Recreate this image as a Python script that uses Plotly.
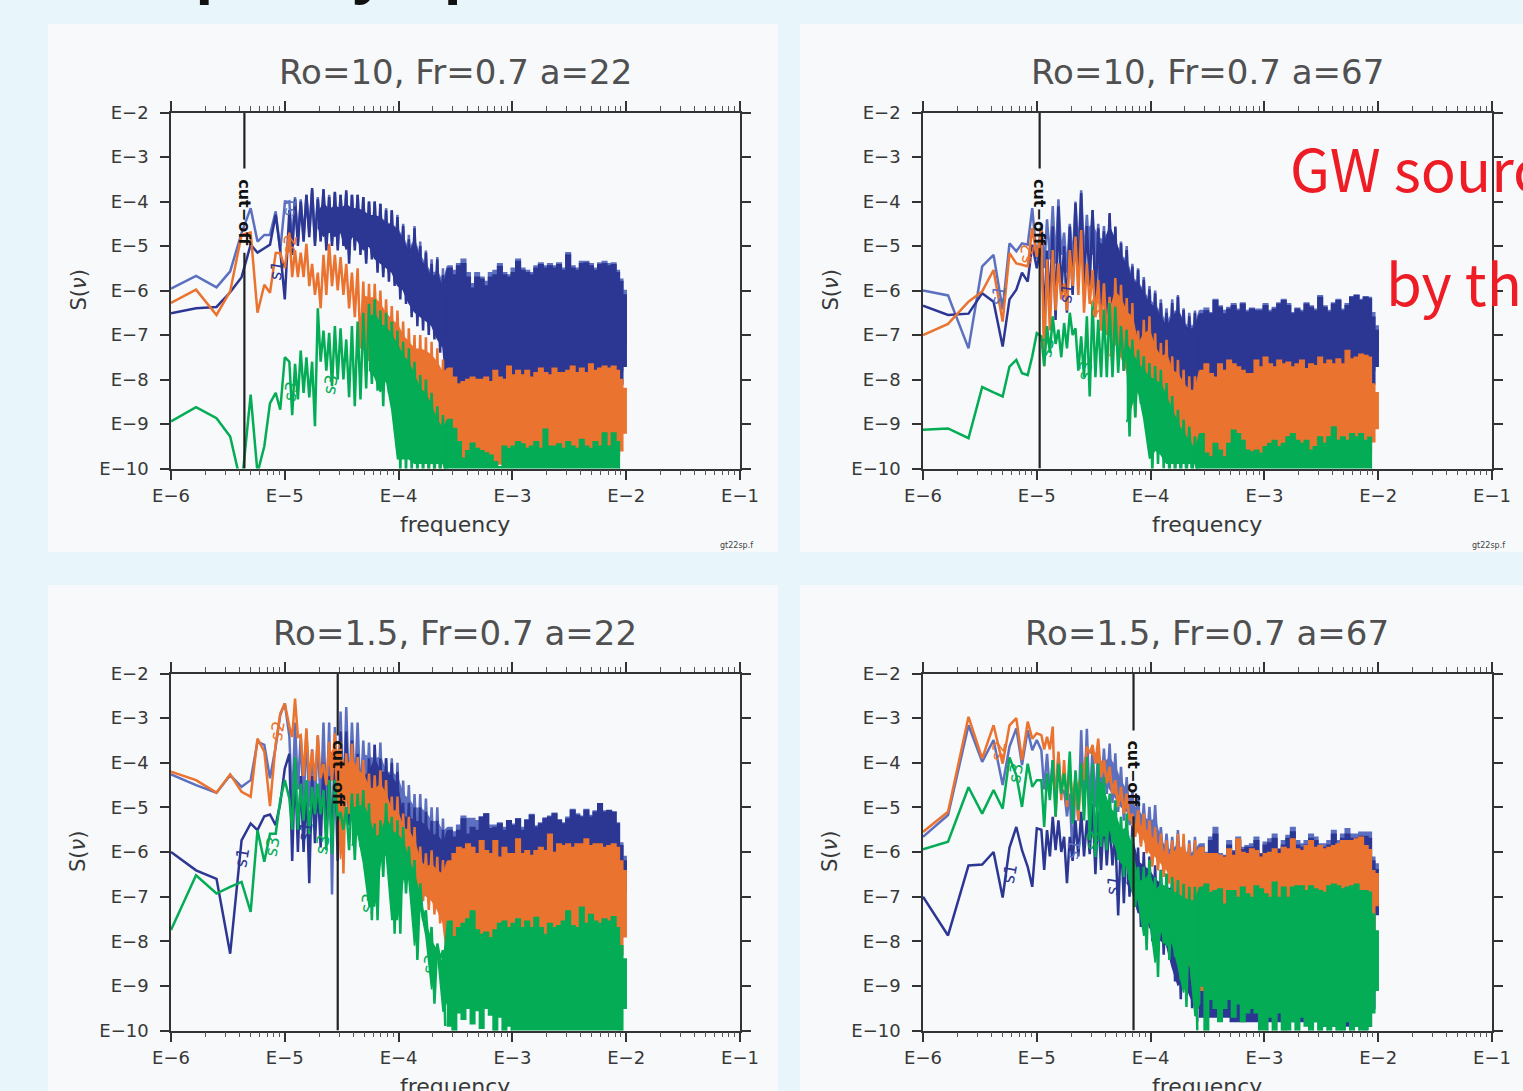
import plotly.graph_objects as go

W, H = 1523, 1091

LOW_F = [-6,-5.78,-5.6,-5.48,-5.38,-5.3,-5.24,-5.18,-5.13,-5.08,-5.04,-5.0]
MID_F = [-4.96,-4.91,-4.86,-4.81,-4.76,-4.71,-4.66,-4.61,-4.56,-4.51,-4.46,-4.41,-4.36,-4.31,-4.26,-4.21,-4.16,-4.11,-4.06,-4.01,-3.96,-3.91,-3.86,-3.81,-3.76,-3.71,-3.66,-3.61]
HIGH_F = [-3.57,-3.53,-3.49,-3.45,-3.41,-3.37,-3.33,-3.29,-3.25,-3.21,-3.17,-3.13,-3.09,-3.05,-3.01,-2.97,-2.93,-2.89,-2.85,-2.81,-2.77,-2.73,-2.69,-2.65,-2.61,-2.57,-2.53,-2.49,-2.45,-2.41,-2.37,-2.33,-2.29,-2.25,-2.21,-2.17,-2.13,-2.09,-2.06,-2.03,-2.0]
EDGE_F = [-3.57,-3.3,-3.0,-2.5,-2.06,-2.03,-2.0]
TICK_EXP_X = [-6,-5,-4,-3,-2,-1]
TICK_EXP_Y = [-2,-3,-4,-5,-6,-7,-8,-9,-10]
MINOR_MULT = [2,3,4,5,6,7,8,9]
CUT_F = [-5.355,-4.975,-4.535,-4.15]
CUT_GAP = [(-3.26,-5.15),(-3.26,-5.05),(-3.39,-5.2),(-3.28,-5.2)]
TITLES = ["Ro=10, Fr=0.7 a=22","Ro=10, Fr=0.7 a=67","Ro=1.5, Fr=0.7 a=22","Ro=1.5, Fr=0.7 a=67"]

# ---------- panel 1
P1_L_LOW = [-5.96,-5.67,-5.93,-5.57,-4.71,-4.15,-4.9,-4.75,-4.75,-4.22,-5.1,-4.05]
P1_D_LOW = [-6.51,-6.4,-6.37,-6.04,-5.7,-4.97,-5.15,-5.05,-4.97,-4.3,-5.1,-6.2]
P1_O_LOW = [-6.28,-5.98,-6.55,-6.02,-4.75,-4.7,-6.5,-5.87,-6.05,-5.16,-5.16,-5.5]
P1_G_LOW = [-8.94,-8.62,-8.87,-9.28,-10.4,-8.34,-10.1,-9.5,-8.53,-8.3,-8.68,-7.5]
P1_L_T = [-4.0,-3.9,-3.95,-3.85,-3.75,-3.9,-3.75,-3.85,-3.8,-3.85,-3.8,-3.85,-3.85,-3.9,-4.0,-4.0,-4.05,-4.15,-4.2,-4.3,-4.5,-4.75,-4.55,-4.9,-5.1,-5.3,-5.25,-5.5]
P1_L_B = [-5.0,-4.9,-4.8,-4.7,-4.9,-4.8,-5.0,-4.9,-5.0,-4.9,-5.2,-5.0,-5.1,-5.3,-5.2,-5.5,-5.6,-5.6,-5.8,-6.0,-6.1,-6.3,-6.5,-6.6,-6.8,-6.9,-7.1,-7.3]
P1_D_T = [-4.2,-3.95,-4.0,-3.85,-3.7,-3.95,-3.72,-3.9,-3.78,-3.85,-3.75,-3.85,-3.85,-3.9,-4.0,-4.0,-4.05,-4.2,-4.2,-4.35,-4.55,-4.85,-4.6,-5.0,-5.15,-5.4,-5.3,-5.65]
P1_D_B = [-5.2,-5.0,-4.9,-4.8,-5.0,-4.9,-5.1,-5.0,-5.1,-5.0,-5.4,-5.1,-5.2,-5.4,-5.3,-5.6,-5.7,-5.8,-5.9,-6.2,-6.3,-6.6,-6.8,-6.9,-7.0,-7.1,-7.4,-7.6]
P1_O_T = [-4.7,-5.1,-5.15,-4.95,-5.4,-5.6,-5.2,-4.95,-5.2,-5.25,-5.4,-5.6,-5.5,-5.8,-5.85,-5.85,-6.0,-6.2,-6.35,-6.45,-6.7,-6.85,-7.0,-7.0,-7.05,-7.15,-7.3,-7.55]
P1_O_B = [-5.7,-5.7,-5.7,-5.9,-6.1,-6.4,-6.1,-5.9,-6.0,-6.1,-6.4,-6.6,-7.3,-7.6,-7.9,-7.3,-7.7,-7.8,-8.0,-8.3,-8.8,-8.7,-9.4,-9.5,-10,-10.2,-10,-9.8]
P1_G_T = [-7.6,-7.65,-7.35,-7.5,-7.6,-6.4,-6.9,-6.95,-6.8,-6.85,-7.1,-6.8,-6.7,-6.5,-6.3,-6.2,-6.45,-6.5,-6.7,-6.9,-7.15,-7.3,-7.6,-7.9,-8.0,-8.3,-8.6,-8.8]
P1_G_B = [-8.8,-8.45,-8.3,-8.4,-9.05,-7.6,-7.8,-8.15,-8.0,-8.0,-8.4,-8.6,-8.45,-8.2,-8.1,-8.25,-8.6,-8.3,-9.0,-10.1,-10.1,-10.1,-10.2,-10.2,-10.2,-10.2,-10.2,-10.2]
P1_L_H = [-5.45,-5.55,-5.4,-5.3,-5.6,-5.85,-5.6,-5.7,-5.8,-5.6,-5.55,-5.4,-5.6,-5.65,-5.5,-5.3,-5.5,-5.55,-5.6,-5.45,-5.38,-5.45,-5.4,-5.45,-5.38,-5.5,-5.15,-5.45,-5.5,-5.35,-5.35,-5.4,-5.5,-5.38,-5.35,-5.4,-5.38,-5.55,-5.75,-6.0,-6.5]
P1_D_H = [-5.5,-5.65,-5.45,-5.4,-5.7,-5.95,-5.7,-5.75,-5.9,-5.7,-5.65,-5.46,-5.65,-5.7,-5.6,-5.35,-5.55,-5.6,-5.65,-5.5,-5.42,-5.5,-5.45,-5.5,-5.42,-5.55,-5.2,-5.5,-5.55,-5.4,-5.38,-5.45,-5.55,-5.42,-5.4,-5.45,-5.42,-5.6,-5.8,-6.1,-6.6]
P1_O_H = [-7.75,-7.95,-8.1,-8.05,-8.0,-7.95,-8.0,-8.0,-7.95,-8.05,-7.8,-7.95,-8.0,-7.7,-7.9,-7.8,-7.9,-7.8,-7.95,-7.85,-7.75,-7.85,-7.9,-7.75,-7.85,-7.85,-7.8,-7.7,-7.85,-7.75,-7.85,-7.65,-7.8,-7.75,-7.7,-7.75,-7.7,-7.8,-8.0,-8.2,-8.3]
P1_G_H = [-8.9,-9.1,-9.4,-9.77,-9.6,-9.43,-9.55,-9.6,-9.65,-9.7,-9.85,-9.96,-9.5,-9.55,-9.5,-9.4,-9.45,-9.55,-9.5,-9.4,-9.55,-9.12,-9.5,-9.5,-9.45,-9.55,-9.4,-9.5,-9.55,-9.35,-9.5,-9.55,-9.4,-9.5,-9.2,-9.5,-9.2,-9.4,-10.2,-10.2,-10.2]
P1_L_E = [-8.2,-8.2,-8.2,-8.2,-8.2,-7.8,-7.2]
P1_D_E = [-8.5,-8.5,-8.4,-8.4,-8.3,-8.1,-7.7]
P1_O_E = [-9.9,-9.9,-9.9,-9.9,-9.7,-9.6,-9.2]
P1_G_E = [-10.2,-10.2,-10.2,-10.2,-10.2,-10.2,-10.2]

# ---------- panel 2
P2_L_LOW = [-6.0,-6.11,-7.3,-5.46,-5.2,-6.43,-4.94,-5.12,-4.94,-4.97,-4.15,-5.3]
P2_D_LOW = [-6.34,-6.55,-6.52,-6.06,-6.25,-7.26,-6.2,-5.98,-5.6,-5.8,-4.97,-5.5]
P2_O_LOW = [-7.0,-6.75,-6.25,-6.02,-5.54,-6.7,-5.16,-5.39,-5.42,-5.46,-4.6,-5.24]
P2_G_LOW = [-9.13,-9.1,-9.32,-8.17,-8.29,-8.38,-7.71,-7.56,-7.86,-7.9,-7.48,-6.96]
P2_L_T = [-4.5,-4.4,-4.1,-3.95,-4.7,-4.5,-4.0,-3.75,-4.3,-4.2,-4.5,-4.55,-4.3,-4.6,-4.9,-5.0,-5.4,-5.5,-5.7,-5.9,-6.0,-6.2,-6.4,-6.2,-6.1,-6.4,-6.5,-6.45]
P2_L_B = [-5.5,-5.3,-5.4,-5.2,-5.6,-5.4,-5.2,-5.3,-5.3,-5.5,-5.6,-5.7,-5.9,-6.0,-6.3,-6.4,-6.6,-6.8,-6.9,-7.0,-7.2,-7.2,-7.4,-7.4,-7.4,-7.5,-7.5,-7.5]
P2_D_T = [-4.94,-5.1,-4.56,-4.11,-5.0,-4.56,-4.04,-3.81,-4.55,-4.19,-4.6,-4.67,-4.26,-4.56,-4.94,-5.09,-5.46,-5.54,-5.76,-5.98,-6.06,-6.28,-6.5,-6.28,-6.14,-6.44,-6.58,-6.5]
P2_D_B = [-6.6,-6.3,-6.66,-6.1,-6.5,-6.1,-5.8,-5.9,-5.9,-6.3,-6.4,-6.6,-7.1,-7.2,-7.8,-7.9,-8.1,-8.2,-8.4,-8.5,-8.6,-8.7,-8.7,-8.8,-8.6,-8.6,-8.5,-8.5]
P2_O_T = [-4.64,-5.3,-5.09,-5.39,-5.84,-5.09,-4.79,-4.64,-5.39,-5.54,-5.76,-5.84,-6.14,-5.72,-5.87,-6.17,-6.28,-6.9,-6.66,-6.58,-6.96,-7.18,-7.11,-7.48,-7.56,-7.78,-7.93,-7.93]
P2_O_B = [-7.7,-6.9,-6.45,-6.2,-6.45,-5.9,-6.1,-6.5,-6.3,-6.6,-6.9,-7.0,-7.8,-7.5,-7.8,-8.1,-8.85,-8.4,-8.6,-8.8,-9.0,-9.0,-9.3,-9.3,-9.5,-9.7,-9.8,-9.9]
P2_G_T = [-7.03,-6.8,-6.58,-6.88,-6.73,-6.5,-6.85,-7.03,-6.58,-6.25,-6.66,-6.43,-6.28,-6.36,-6.8,-6.88,-7.1,-7.33,-7.48,-7.63,-7.7,-7.78,-8.08,-8.37,-8.68,-8.9,-9.06,-9.28]
P2_G_B = [-7.7,-7.4,-7.2,-7.5,-7.3,-7.0,-7.8,-7.95,-8.38,-7.95,-7.95,-7.95,-7.95,-7.85,-7.8,-9.28,-8.85,-8.55,-9.2,-10.1,-9.9,-10,-10.2,-10.2,-10.2,-10.2,-10.2,-10.2]
P2_L_H = [-6.45,-6.4,-6.5,-6.2,-6.35,-6.45,-6.38,-6.3,-6.42,-6.28,-6.45,-6.4,-6.42,-6.42,-6.3,-6.45,-6.38,-6.28,-6.2,-6.3,-6.5,-6.4,-6.45,-6.28,-6.35,-6.42,-6.12,-6.35,-6.45,-6.28,-6.2,-6.42,-6.3,-6.14,-6.1,-6.2,-6.14,-6.16,-6.5,-6.8,-7.2]
P2_D_H = [-6.53,-6.46,-6.53,-6.23,-6.38,-6.53,-6.42,-6.34,-6.46,-6.31,-6.49,-6.42,-6.46,-6.46,-6.34,-6.49,-6.42,-6.31,-6.23,-6.34,-6.53,-6.42,-6.49,-6.31,-6.38,-6.46,-6.16,-6.38,-6.49,-6.31,-6.23,-6.46,-6.34,-6.16,-6.12,-6.23,-6.16,-6.19,-6.6,-6.9,-7.3]
P2_O_H = [-7.8,-7.65,-7.87,-7.95,-7.65,-7.8,-7.57,-7.65,-7.72,-7.8,-7.87,-7.87,-7.57,-7.72,-7.5,-7.65,-7.72,-7.57,-7.65,-7.61,-7.72,-7.65,-7.57,-7.76,-7.65,-7.69,-7.5,-7.65,-7.57,-7.65,-7.54,-7.65,-7.35,-7.54,-7.5,-7.43,-7.46,-7.5,-8.1,-8.3,-8.5]
P2_G_H = [-9.22,-9.66,-9.74,-9.44,-9.59,-9.74,-9.44,-9.14,-9.22,-9.37,-9.59,-9.63,-9.59,-9.66,-9.51,-9.44,-9.37,-9.51,-9.44,-9.29,-9.22,-9.37,-9.44,-9.37,-9.59,-9.51,-9.29,-9.44,-9.29,-9.07,-9.37,-9.29,-9.37,-9.22,-9.29,-9.22,-9.37,-9.3,-10.2,-10.2,-10.2]
P2_L_E = [-8.3,-8.3,-8.3,-8.3,-8.2,-7.8,-7.4]
P2_D_E = [-8.7,-8.7,-8.6,-8.5,-8.2,-8.1,-7.7]
P2_O_E = [-9.8,-9.9,-9.9,-9.8,-9.6,-9.4,-9.1]
P2_G_E = [-10.2,-10.2,-10.2,-10.2,-10.2,-10.2,-10.2]

# ---------- panel 3
P3_L_LOW = [-4.26,-4.5,-4.67,-4.28,-4.54,-4.39,-3.53,-3.6,-4.35,-3.64,-2.93,-2.67]
P3_D_LOW = [-6.0,-6.41,-6.6,-8.28,-5.74,-5.36,-5.51,-5.2,-5.16,-5.4,-4.91,-4.13]
P3_O_LOW = [-4.2,-4.39,-4.67,-4.26,-4.65,-4.76,-3.46,-3.75,-4.97,-3.57,-2.9,-2.67]
P3_G_LOW = [-7.75,-6.52,-6.93,-6.78,-6.67,-7.34,-5.51,-6.22,-5.59,-5.59,-4.84,-4.39]
P3_L_T = [-3.4,-3.1,-3.4,-3.3,-3.7,-3.4,-3.1,-3.1,-3.2,-2.85,-2.75,-3.1,-3.1,-3.5,-3.55,-3.6,-3.55,-3.9,-3.9,-4.0,-4.4,-4.5,-4.7,-4.7,-4.8,-5.0,-5.0,-5.25]
P3_L_B = [-5.0,-4.6,-5.0,-5.0,-4.9,-5.0,-5.2,-6.95,-5.0,-5.0,-4.8,-4.6,-4.8,-5.0,-5.1,-5.1,-5.3,-5.5,-5.6,-5.8,-5.9,-6.1,-6.2,-6.3,-6.4,-6.5,-6.6,-6.7]
P3_D_T = [-3.8,-4.0,-4.3,-4.5,-4.3,-4.5,-4.0,-4.3,-3.8,-3.3,-3.3,-3.5,-3.8,-4.0,-3.9,-3.6,-3.9,-3.9,-4.0,-4.2,-4.9,-4.9,-5.0,-5.0,-5.1,-5.3,-5.3,-5.5]
P3_D_B = [-6.2,-6.0,-6.0,-6.7,-5.8,-5.9,-5.6,-5.9,-6.2,-5.5,-5.4,-5.3,-5.5,-5.7,-5.8,-6.0,-6.0,-6.2,-6.3,-6.5,-6.6,-6.7,-6.8,-7.0,-7.1,-7.2,-7.3,-7.3]
P3_O_T = [-3.19,-2.56,-3.38,-3.23,-3.72,-3.38,-4.02,-3.53,-3.34,-3.53,-3.79,-3.57,-3.87,-3.94,-4.24,-4.28,-4.17,-4.39,-4.76,-4.76,-5.14,-5.21,-5.44,-5.88,-6.03,-5.96,-6.11,-6.18]
P3_O_B = [-3.42,-3.42,-4.3,-4.4,-4.4,-4.35,-4.5,-4.4,-4.25,-6.48,-5.15,-5.15,-5.1,-5.4,-5.6,-5.8,-6.0,-6.2,-6.4,-6.6,-6.7,-6.8,-7.0,-7.1,-7.3,-7.4,-7.6,-7.9]
P3_G_T = [-4.8,-3.87,-4.47,-4.39,-4.54,-4.47,-4.61,-4.39,-4.39,-5.1,-4.99,-4.69,-4.69,-4.61,-4.91,-5.36,-5.29,-4.91,-5.21,-5.29,-5.44,-5.88,-6.18,-6.7,-7.31,-7.68,-8.05,-8.2]
P3_G_B = [-5.5,-5.5,-5.3,-5.6,-5.15,-5.15,-5.96,-6.04,-5.3,-5.5,-5.96,-6.18,-5.88,-6.56,-7.53,-7.53,-6.56,-6.34,-7.83,-7.83,-6.93,-6.93,-8.42,-7.53,-8.2,-9.4,-8.4,-9.9]
P3_L_H = [-5.45,-5.55,-5.4,-5.2,-5.25,-5.25,-5.3,-5.22,-5.15,-5.4,-5.4,-5.35,-5.45,-5.3,-5.38,-5.26,-5.45,-5.28,-5.16,-5.42,-5.35,-5.24,-5.2,-5.13,-5.28,-5.35,-5.22,-5.05,-5.15,-5.2,-5.05,-5.18,-5.08,-4.92,-5.08,-5.08,-5.11,-5.35,-5.8,-6.1,-6.5]
P3_D_H = [-5.52,-5.67,-5.52,-5.26,-5.6,-5.45,-5.52,-5.22,-5.15,-5.48,-5.45,-5.37,-5.52,-5.3,-5.41,-5.26,-5.52,-5.3,-5.18,-5.45,-5.37,-5.26,-5.22,-5.15,-5.3,-5.37,-5.26,-5.07,-5.18,-5.22,-5.07,-5.22,-5.11,-4.92,-5.11,-5.07,-5.11,-5.37,-5.86,-6.2,-6.6]
P3_O_H = [-6.2,-6.04,-5.9,-5.93,-5.82,-5.9,-6.04,-5.75,-5.97,-6.04,-5.75,-6.12,-5.9,-6.04,-6.04,-5.71,-6.04,-5.97,-6.08,-5.97,-5.9,-5.97,-5.6,-6.01,-5.82,-5.86,-5.82,-5.9,-5.82,-5.82,-5.71,-5.86,-5.82,-5.82,-5.9,-5.86,-5.82,-5.9,-6.2,-6.42,-6.5]
P3_G_H = [-7.55,-7.9,-7.7,-7.6,-7.5,-7.32,-7.75,-7.85,-7.8,-7.92,-7.75,-7.6,-7.55,-7.7,-7.6,-7.5,-7.7,-7.55,-7.7,-7.47,-7.7,-7.85,-7.6,-7.7,-7.65,-7.55,-7.32,-7.65,-7.7,-7.24,-7.6,-7.4,-7.55,-7.6,-7.5,-7.55,-7.45,-7.7,-8.1,-8.4,-8.9]
P3_L_E = [-7.3,-7.4,-7.4,-7.4,-7.2,-7.0,-6.9]
P3_D_E = [-7.5,-7.5,-7.5,-7.5,-7.4,-7.2,-6.9]
P3_O_E = [-8.5,-8.6,-8.6,-8.6,-8.5,-8.3,-7.9]
P3_G_E = [-9.3,-9.9,-10.1,-9.6,-9.75,-9.5,-9.85,-9.55,-9.95,-9.5,-9.65,-10.0,-9.7,-10.1,-9.9,-10.2,-10.2,-10.2,-10.2,-10.2,-10.2,-10.2,-10.2,-10.2,-10.2,-10.2,-10.2,-10.2,-10.2,-10.2,-10.2,-10.2,-10.2,-10.2,-10.2,-10.2,-10.2,-10.2,-10.1,-10.0,-9.5]

# ---------- panel 4
P4_L_LOW = [-5.66,-5.17,-3.16,-3.98,-3.49,-4.5,-3.64,-3.23,-4.05,-3.27,-3.72,-3.49]
P4_D_LOW = [-7.0,-7.87,-6.3,-6.28,-6.0,-7.02,-5.9,-5.44,-5.96,-6.33,-6.78,-5.47]
P4_O_LOW = [-5.55,-5.1,-2.97,-3.9,-3.16,-4.02,-3.16,-3.0,-3.94,-3.08,-3.46,-3.34]
P4_G_LOW = [-5.94,-5.77,-4.55,-5.14,-4.61,-5.03,-3.88,-4.28,-4.99,-4.02,-4.54,-4.39]
P4_L_T = [-3.72,-3.8,-3.94,-3.79,-4.61,-4.69,-4.32,-3.27,-3.24,-3.64,-3.64,-3.68,-3.57,-3.79,-4.09,-4.32,-4.61,-4.76,-4.91,-4.99,-4.95,-5.44,-5.59,-5.66,-5.51,-5.74,-5.74,-5.66]
P4_L_B = [-4.6,-4.7,-4.8,-4.7,-5.2,-6.18,-5.3,-5.0,-5.0,-5.0,-4.7,-4.7,-4.9,-5.1,-5.3,-5.4,-5.6,-5.8,-5.9,-6.0,-6.1,-6.3,-6.4,-6.5,-6.5,-6.6,-6.6,-6.7]
P4_D_T = [-5.5,-5.51,-5.21,-5.29,-5.66,-5.66,-5.29,-5.1,-5.29,-4.91,-5.1,-5.14,-5.29,-5.59,-5.6,-5.6,-5.4,-5.9,-6.0,-6.1,-6.3,-6.4,-6.5,-6.5,-6.7,-6.9,-7.0,-7.1]
P4_D_B = [-6.4,-6.1,-5.96,-6.0,-6.7,-6.2,-6.1,-6.1,-6.05,-6.5,-6.4,-6.3,-6.3,-7.42,-7.15,-7.0,-7.2,-7.68,-7.7,-8.0,-8.2,-8.3,-8.4,-8.9,-9.3,-9.2,-9.5,-9.8]
P4_O_T = [-3.38,-3.42,-3.19,-3.75,-3.94,-4.17,-4.32,-4.17,-3.64,-3.6,-3.46,-3.94,-4.09,-4.39,-4.54,-4.69,-5.14,-5.06,-5.14,-5.29,-5.44,-5.59,-5.74,-5.74,-5.59,-5.59,-5.81,-5.74]
P4_O_B = [-3.7,-3.7,-5.21,-4.84,-4.99,-4.84,-5.29,-4.39,-3.79,-4.02,-4.32,-4.46,-4.69,-4.99,-5.14,-5.29,-5.66,-5.88,-6.03,-6.33,-6.41,-6.56,-6.71,-6.93,-7.08,-7.3,-8.87,-7.5]
P4_G_T = [-4.39,-4.24,-3.94,-4.02,-4.24,-3.75,-4.17,-4.02,-3.87,-4.02,-4.02,-4.32,-4.69,-4.84,-5.21,-5.14,-5.66,-6.33,-6.33,-6.18,-6.56,-6.41,-6.48,-6.56,-6.63,-6.71,-6.78,-6.78]
P4_G_B = [-5.44,-4.84,-5.21,-4.69,-4.84,-5.36,-5.06,-5.29,-5.74,-6.11,-5.88,-5.96,-5.81,-6.18,-6.56,-6.63,-7.23,-7.38,-8.2,-7.82,-8.8,-8.05,-8.42,-8.35,-8.87,-9.47,-8.65,-10.0]
P4_L_H = [-5.82,-6.01,-5.67,-5.45,-6.04,-6.08,-5.75,-5.97,-5.67,-5.9,-5.86,-5.82,-5.67,-6.04,-5.78,-5.71,-5.6,-5.93,-5.75,-5.63,-5.45,-5.75,-5.82,-5.75,-5.6,-5.67,-5.82,-5.82,-5.75,-5.52,-5.75,-5.6,-5.48,-5.6,-5.6,-5.56,-5.56,-5.56,-6.12,-6.27,-6.42]
P4_D_H = [-5.9,-6.05,-5.75,-5.6,-6.1,-6.1,-5.85,-6.0,-5.75,-5.95,-5.9,-5.9,-5.75,-6.05,-5.85,-5.8,-5.7,-5.95,-5.85,-5.7,-5.55,-5.85,-5.9,-5.85,-5.7,-5.75,-5.9,-5.9,-5.85,-5.6,-5.85,-5.7,-5.6,-5.7,-5.7,-5.65,-5.65,-5.7,-6.2,-6.4,-6.6]
P4_O_H = [-5.9,-6.04,-6.04,-6.04,-6.08,-6.12,-5.93,-6.08,-5.71,-6.01,-6.04,-5.93,-5.97,-6.12,-6.04,-6.01,-5.93,-6.04,-5.9,-5.93,-5.71,-5.93,-5.97,-5.86,-5.75,-5.9,-5.86,-5.93,-5.9,-5.86,-5.82,-5.75,-5.75,-5.75,-5.71,-5.67,-5.86,-5.95,-6.42,-6.49,-6.87]
P4_G_H = [-6.79,-6.72,-6.91,-6.87,-6.83,-7.17,-6.87,-6.87,-7.02,-6.79,-6.94,-7.02,-6.76,-6.83,-6.94,-7.02,-6.68,-7.02,-6.79,-7.02,-6.79,-6.76,-6.76,-6.87,-6.76,-6.83,-6.87,-6.91,-6.76,-6.72,-6.76,-6.83,-6.79,-6.76,-6.72,-6.87,-6.87,-6.9,-7.39,-7.77,-8.14]
P4_L_E = [-7.0,-7.0,-7.0,-7.0,-6.9,-6.8,-6.6]
P4_D_E = [-9.5,-9.7,-9.8,-9.8,-9.9,-9.5,-7.4]
P4_O_E = [-8.8,-9.1,-8.7,-8.7,-8.5,-8.0,-7.2]
P4_G_E = [-9.4,-9.0,-10.2,-9.3,-9.5,-9.8,-9.5,-9.3,-9.7,-9.4,-9.8,-9.6,-9.5,-9.6,-10.1,-10.2,-9.7,-10.1,-9.6,-10.0,-10.1,-9.8,-10.1,-9.7,-9.9,-10.1,-9.8,-10.0,-9.9,-10.1,-9.9,-10.1,-10.0,-9.8,-10.1,-9.9,-10.1,-10.0,-9.9,-9.6,-9.1]

LABELS = [
 [("s1","L",-4.96,-4.1),("s2","O",-4.96,-4.95),("s1","D",-5.07,-5.55),("s3","G",-4.95,-8.25),("s3","G",-4.6,-8.1),("s3","G",-3.93,-9.6)],
 [("s1","L",-5.34,-6.1),("s2","O",-5.09,-5.18),("s1","D",-4.74,-6.05),("s3","G",-4.91,-7.28),("s3","G",-4.58,-7.8),("s2","O",-4.47,-6.38)],
 [("s1","D",-5.38,-6.13),("s3","G",-5.11,-5.87),("s2","O",-5.07,-3.28),("s3","G",-4.67,-5.82),("s1","D",-4.82,-5.53),("s3","G",-4.27,-7.15),("s3","G",-3.73,-8.5)],
 [("s1","D",-5.24,-6.47),("s2","O",-5.34,-3.73),("s3","G",-5.19,-4.22),("s1","L",-4.68,-5.93),("s1","D",-4.33,-6.74),("s3","G",-4.51,-5.75)],
]

# frequency (log10) from which each series has a solid core under its spikes, per panel
SOLID_FROM = [dict(L=-4.66,D=-4.71,O=-4.31,G=-4.26),dict(L=-4.56,D=-4.46,O=-4.36,G=-4.21),
              dict(L=-4.31,D=-4.31,O=-4.61,G=-4.41),dict(L=-4.46,D=-4.21,O=-4.66,G=-4.46)]
CORE_INSET = 0.32

COL = {"L":"#5d70bf","D":"#2c3794","O":"#ea732f","G":"#03ac55"}
INK = "#383838"
FONT = "DejaVu Sans"

P = [
 dict(L=(P1_L_LOW,P1_L_T,P1_L_B,P1_L_H,P1_L_E),D=(P1_D_LOW,P1_D_T,P1_D_B,P1_D_H,P1_D_E),O=(P1_O_LOW,P1_O_T,P1_O_B,P1_O_H,P1_O_E),G=(P1_G_LOW,P1_G_T,P1_G_B,P1_G_H,P1_G_E)),
 dict(L=(P2_L_LOW,P2_L_T,P2_L_B,P2_L_H,P2_L_E),D=(P2_D_LOW,P2_D_T,P2_D_B,P2_D_H,P2_D_E),O=(P2_O_LOW,P2_O_T,P2_O_B,P2_O_H,P2_O_E),G=(P2_G_LOW,P2_G_T,P2_G_B,P2_G_H,P2_G_E)),
 dict(L=(P3_L_LOW,P3_L_T,P3_L_B,P3_L_H,P3_L_E),D=(P3_D_LOW,P3_D_T,P3_D_B,P3_D_H,P3_D_E),O=(P3_O_LOW,P3_O_T,P3_O_B,P3_O_H,P3_O_E),G=(P3_G_LOW,P3_G_T,P3_G_B,P3_G_H,P3_G_E)),
 dict(L=(P4_L_LOW,P4_L_T,P4_L_B,P4_L_H,P4_L_E),D=(P4_D_LOW,P4_D_T,P4_D_B,P4_D_H,P4_D_E),O=(P4_O_LOW,P4_O_T,P4_O_B,P4_O_H,P4_O_E),G=(P4_G_LOW,P4_G_T,P4_G_B,P4_G_H,P4_G_E)),
]

# pixel boxes of the four plot areas: left, right, top, bottom
BOX = [(171,740,112.5,468.5),(923,1492,112.5,468.5),(171,740,673.5,1030.5),(923,1492,673.5,1030.5)]
CARD = [(48,778,24,552),(800,1523,24,552),(48,778,585,1091),(800,1523,585,1091)]

def e(v):
    return [None if a is None else 10.0**a for a in v]

def px(x): return x/W
def py(y): return 1-y/H

fig = go.Figure()
annots, shapes, layout = [], [], {}
for i,(panel,box,card) in enumerate(zip(P,BOX,CARD)):
    n = "" if i==0 else str(i+1)
    xa, ya = "x"+n, "y"+n
    for key in "LDOG":
        low,top,bot,high,edge = panel[key]
        xs, ys = list(LOW_F), list(low)
        for j,(f,t,b) in enumerate(zip(MID_F,top,bot)):
            nxt = MID_F[j+1] if j+1<len(MID_F) else HIGH_F[0]
            xs += [f,(f+nxt)/2]
            ys += [t,b]
        fig.add_trace(go.Scatter(x=e(xs),y=e(ys),mode="lines",xaxis=xa,yaxis=ya,showlegend=False,
                                 hoverinfo="skip",line=dict(color=COL[key],width=2.5,simplify=False)))
        start = SOLID_FROM[i][key]
        idx = [j for j,f in enumerate(MID_F) if f>=start]
        mx = [MID_F[j] for j in idx]
        core_t, core_b = [], []
        for j in idx:
            t_, b_ = top[j]-CORE_INSET, bot[j]+CORE_INSET
            if t_ < b_:
                t_ = b_ = (top[j]+bot[j])/2
            core_t.append(t_)
            core_b.append(b_)
        fig.add_trace(go.Scatter(x=e(mx+[HIGH_F[0],HIGH_F[0]]+mx[::-1]),
                                 y=e(core_t+[high[0],edge[0]]+core_b[::-1]),
                                 mode="lines",fill="toself",fillcolor=COL[key],xaxis=xa,yaxis=ya,
                                 showlegend=False,hoverinfo="skip",line=dict(color=COL[key],width=1.5,simplify=False)))
        edge_x = HIGH_F if len(edge)==len(HIGH_F) else EDGE_F
        fig.add_trace(go.Scatter(x=e(list(HIGH_F)+list(edge_x)[::-1]),y=e(list(high)+list(edge)[::-1]),
                                 mode="lines",fill="toself",fillcolor=COL[key],xaxis=xa,yaxis=ya,
                                 showlegend=False,hoverinfo="skip",line=dict(color=COL[key],width=1.5,shape="hv",simplify=False)))
    gt,gb = CUT_GAP[i]
    fig.add_trace(go.Scatter(x=e([CUT_F[i]]*5),y=e([-2,gt,None,gb,-10]),mode="lines",xaxis=xa,yaxis=ya,showlegend=False,
                             hoverinfo="skip",connectgaps=False,line=dict(color="#222222",width=2.2)))
    l,r,t,b = box
    minor_x = [m*10.0**d for d in TICK_EXP_X[:-1] for m in MINOR_MULT]
    layout["xaxis"+n] = dict(domain=[px(l),px(r)],anchor=ya,type="log",range=[-6,-1],
        tickmode="array",tickvals=[10.0**d for d in TICK_EXP_X],ticktext=["E\u2212%d"%abs(d) for d in TICK_EXP_X],
        ticks="outside",ticklen=10,tickwidth=1.5,tickcolor="#333",ticklabelstandoff=0,
        minor=dict(ticks="outside",ticklen=5,tickwidth=1,tickcolor="#555",tickmode="array",tickvals=minor_x,showgrid=False),
        showline=True,linecolor="#333",linewidth=1.5,mirror="allticks",showgrid=False,zeroline=False,
        tickfont=dict(family=FONT,size=18,color=INK))
    layout["yaxis"+n] = dict(domain=[py(b),py(t)],anchor=xa,type="log",range=[-10,-2],
        tickmode="array",tickvals=[10.0**d for d in TICK_EXP_Y],ticktext=["E\u2212%d"%abs(d) for d in TICK_EXP_Y],
        ticks="outside",ticklen=9,tickwidth=1.5,tickcolor="#333",ticklabelstandoff=8,
        showline=True,linecolor="#333",linewidth=1.5,mirror="allticks",showgrid=False,zeroline=False,
        tickfont=dict(family=FONT,size=18,color=INK))
    shapes.append(dict(type="rect",xref="paper",yref="paper",x0=px(card[0]),x1=px(card[1]),y0=py(card[3]),y1=py(card[2]),
                       fillcolor="#f7f9fb",line=dict(width=0),layer="below"))
    annots.append(dict(xref="paper",yref="paper",x=px((l+r)/2-.5),y=py(t-40.5),text=TITLES[i],showarrow=False,
                       font=dict(family=FONT,size=34,color="#505050"),xanchor="center",yanchor="middle"))
    annots.append(dict(xref="paper",yref="paper",x=px((l+r)/2-.5),y=py(b+56),text="frequency",showarrow=False,
                       font=dict(family=FONT,size=22,color=INK),xanchor="center",yanchor="middle"))
    annots.append(dict(xref="paper",yref="paper",x=px(l-93),y=py((t+b)/2),text="S(<i>\u03bd</i>)",showarrow=False,textangle=-90,
                       font=dict(family=FONT,size=21,color=INK),xanchor="center",yanchor="middle"))
    if i<2:
        annots.append(dict(xref="paper",yref="paper",x=px(r-4),y=py(545),text="gt22sp.f",showarrow=False,
                           font=dict(family=FONT,size=8,color="#444"),xanchor="center",yanchor="middle"))
    annots.append(dict(xref=xa,yref=ya,x=CUT_F[i],y=-4.25,text="<b>cut\u2212off</b>",showarrow=False,textangle=90,
                       font=dict(family=FONT,size=16,color="#111")))
    for (txt,key,vx,vy) in LABELS[i]:
        annots.append(dict(xref=xa,yref=ya,x=vx,y=vy,text=txt,showarrow=False,textangle=-80,
                           font=dict(family=FONT,size=17,color=COL[key])))

annots.append(dict(xref="paper",yref="paper",x=px(1288),y=py(167),text="GW source",showarrow=False,xanchor="left",yanchor="middle",
                   font=dict(family="Noto Sans CJK JP",size=58,color="#ee1c25")))
annots.append(dict(xref="paper",yref="paper",x=px(1384),y=py(281),text="by the",showarrow=False,xanchor="left",yanchor="middle",
                   font=dict(family="Noto Sans CJK JP",size=58,color="#ee1c25")))
annots.append(dict(xref="paper",yref="paper",x=px(83),y=py(9.5),text="<b>Frequency\u2002spectra</b>",showarrow=False,xanchor="left",yanchor="bottom",
                   font=dict(family="Noto Sans",size=58,color="#111")))

fig.update_layout(width=W,height=H,margin=dict(l=0,r=0,t=0,b=0,autoexpand=False),paper_bgcolor="#e8f6fc",plot_bgcolor="rgba(0,0,0,0)",
                  showlegend=False,shapes=shapes,annotations=annots,**layout)
fig.write_html("out.html",config=dict(displayModeBar=False),
               post_script="document.body.style.margin='0';document.body.style.overflow='hidden';")
